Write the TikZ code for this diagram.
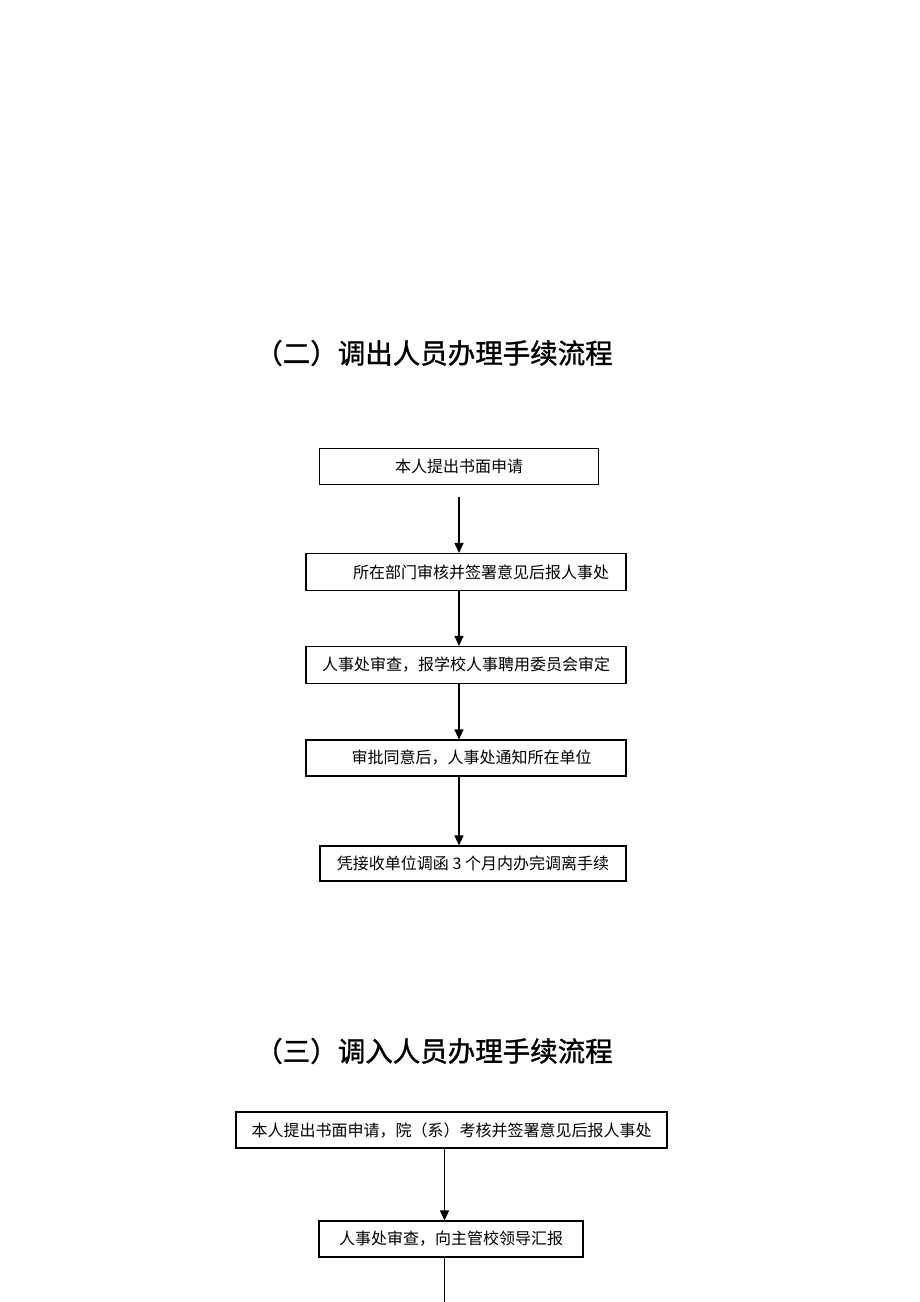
\documentclass[tikz,border=0pt]{standalone}
\usepackage{fontspec}
\newfontfamily\cjk{Noto Sans CJK SC}
\newfontfamily\cjkt[FakeBold=1.2]{Noto Sans CJK SC}
\usetikzlibrary{arrows.meta}
\begin{document}
\begin{tikzpicture}[x=1pt,y=-1pt,
  box/.style={draw, line width=1.1pt, inner sep=0pt, font=\cjk\fontsize{16}{16}\selectfont},
  ttl/.style={inner sep=0pt, font=\cjkt\fontsize{27.5}{27.5}\selectfont},
  arr/.style={line width=1.2pt, -{Triangle[length=10pt,width=9pt]}},
  ln/.style={line width=1.2pt}]
\useasboundingbox (0,0) rectangle (920,1302);
\fill[white] (0,0) rectangle (920,1302);
\node[ttl] (t1) at (434,353) {（二）调出人员办理手续流程};
\node[box, minimum width=279pt, minimum height=36pt] (b1) at (459,466.5) {本人提出书面申请};
\node[box, minimum width=320pt, minimum height=37pt] (b2) at (466,572) {\hspace{30pt}所在部门审核并签署意见后报人事处};
\node[box, minimum width=320pt, minimum height=37pt] (b3) at (466,665) {人事处审查，报学校人事聘用委员会审定};
\node[box, minimum width=320pt, minimum height=36pt] (b4) at (466,758) {\hspace{11pt}审批同意后，人事处通知所在单位};
\node[box, minimum width=306pt, minimum height=35pt] (b5) at (473,863.5) {凭接收单位调函 3 个月内办完调离手续\hspace{9pt}};
\coordinate (a0) at (459,497);
\draw[arr] (a0) -- (b2.north -| a0);
\draw[arr] (b2.south -| a0) -- (b3.north -| a0);
\draw[arr] (b3.south -| a0) -- (b4.north -| a0);
\draw[arr] (b4.south -| a0) -- (b5.north -| a0);
\node[ttl] (t2) at (434,1051) {（三）调入人员办理手续流程};
\node[box, minimum width=431pt, minimum height=36pt] (b6) at (451.5,1130) {本人提出书面申请，院（系）考核并签署意见后报人事处};
\node[box, minimum width=264pt, minimum height=36pt] (b7) at (451,1239) {人事处审查，向主管校领导汇报\hspace{12pt}};
\coordinate (ax) at (444.5,1302);
\draw[arr] (b6.south -| ax) -- (b7.north -| ax);
\draw[ln] (b7.south -| ax) -- (ax);
\end{tikzpicture}
\end{document}
